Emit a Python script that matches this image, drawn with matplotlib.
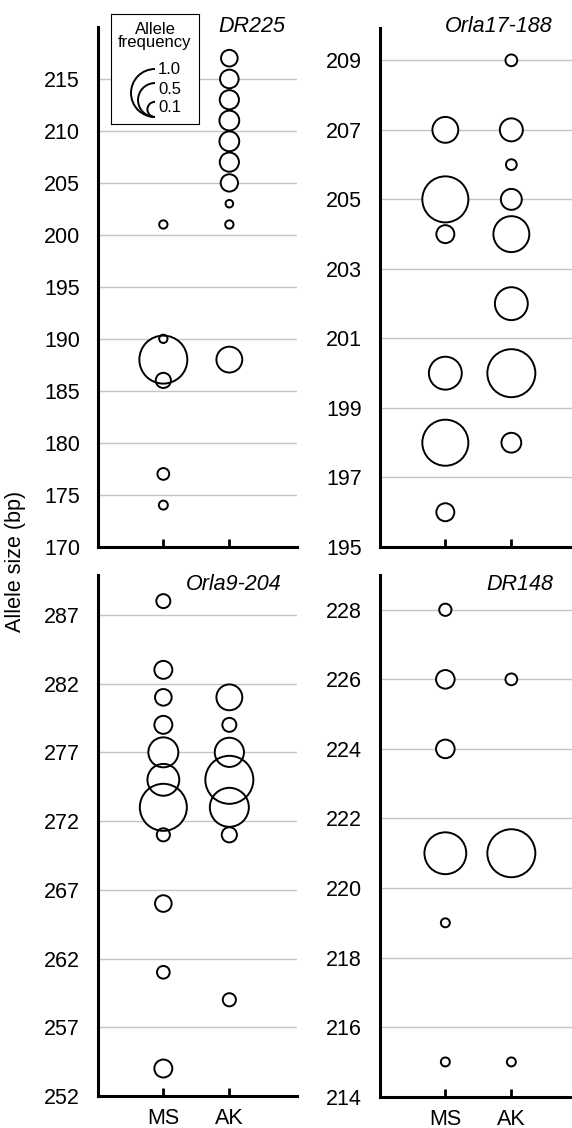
import numpy as np
import matplotlib
matplotlib.use("Agg")
import matplotlib.pyplot as plt
from matplotlib.patches import Arc

plt.rcParams['font.family'] = ['Liberation Sans', 'DejaVu Sans']

# ----------------------------- DATA
pops = ['MS', 'AK']

dr225_ms_size = [201, 190, 188, 186, 177, 174]
dr225_ms_freq = [0.03, 0.03, 1.0, 0.10, 0.06, 0.035]
dr225_ak_size = [217, 215, 213, 211, 209, 207, 205, 203, 201, 188]
dr225_ak_freq = [0.12, 0.15, 0.16, 0.17, 0.17, 0.16, 0.13, 0.025, 0.03, 0.29]

orla17_ms_size = [207, 205, 204, 200, 198, 196]
orla17_ms_freq = [0.29, 0.92, 0.14, 0.47, 0.92, 0.14]
orla17_ak_size = [209, 207, 206, 205, 204, 202, 200, 198]
orla17_ak_freq = [0.06, 0.23, 0.05, 0.19, 0.56, 0.47, 1.0, 0.17]

orla9_ms_size = [288, 283, 281, 279, 277, 275, 273, 271, 266, 261, 254]
orla9_ms_freq = [0.085, 0.14, 0.12, 0.14, 0.39, 0.44, 0.96, 0.075, 0.12, 0.07, 0.14]
orla9_ak_size = [281, 279, 277, 275, 273, 271, 259]
orla9_ak_freq = [0.29, 0.085, 0.37, 1.0, 0.66, 0.10, 0.075]

dr148_ms_size = [228, 226, 224, 221, 219, 215]
dr148_ms_freq = [0.065, 0.15, 0.15, 0.76, 0.035, 0.035]
dr148_ak_size = [226, 221, 215]
dr148_ak_freq = [0.06, 1.0, 0.035]

legend_freq = [1.0, 0.5, 0.1]
legend_labels = ['1.0', '0.5', '0.1']

# ----------------------------- LAYOUT (pixels)
W, H = 572, 1128
D1 = 48  # bubble diameter in px for frequency 1.0


def s_of(f):
    return (D1 * 0.72) ** 2 * np.asarray(f)


def fig_rect(x0, y_top, x1, y_bot):
    return [x0 / W, 1 - y_bot / H, (x1 - x0) / W, (y_bot - y_top) / H]


panels = [
    dict(rect=fig_rect(98, 27, 297, 546.7), title='DR225', title_xy=(285, 26),
         ylim=(170, 220), yticks=np.arange(170, 216, 5), xlab=False,
         ms=(dr225_ms_size, dr225_ms_freq), ak=(dr225_ak_size, dr225_ak_freq)),
    dict(rect=fig_rect(380, 28, 572, 547), title='Orla17-188', title_xy=(553, 26),
         ylim=(195, 209.93), yticks=np.arange(195, 210, 2), xlab=False,
         ms=(orla17_ms_size, orla17_ms_freq), ak=(orla17_ak_size, orla17_ak_freq)),
    dict(rect=fig_rect(98, 575, 297, 1096), title='Orla9-204', title_xy=(282, 585),
         ylim=(252, 289.9), yticks=np.arange(252, 288, 5), xlab=True,
         ms=(orla9_ms_size, orla9_ms_freq), ak=(orla9_ak_size, orla9_ak_freq)),
    dict(rect=fig_rect(380, 575, 572, 1096.7), title='DR148', title_xy=(553, 585),
         ylim=(214, 229), yticks=np.arange(214, 229, 2), xlab=True,
         ms=(dr148_ms_size, dr148_ms_freq), ak=(dr148_ak_size, dr148_ak_freq)),
]

fig = plt.figure(figsize=(W / 100, H / 100), dpi=100)

for p in panels:
    ax = fig.add_axes(p['rect'])
    ax.set_xlim(-0.99, (p['rect'][2] * W) / 66 - 0.99)
    ax.set_ylim(*p['ylim'])
    ax.set_yticks(p['yticks'])
    ax.yaxis.grid(True, color='#c4c4c4', linewidth=1.0)
    ax.set_axisbelow(True)
    for sp in ['top', 'right']:
        ax.spines[sp].set_visible(False)
    for sp in ['left', 'bottom']:
        ax.spines[sp].set_linewidth(2.2)
    ax.tick_params(axis='y', length=0, pad=13, labelsize=15.5)
    ax.set_xticks([0, 1])
    ax.tick_params(axis='x', direction='in', length=6, width=2, pad=8.5, labelsize=15.5)
    ax.set_xticklabels(pops if p['xlab'] else ['', ''])

    # white fill first, then all outlines on top
    for i, key in enumerate(['ms', 'ak']):
        size, freq = p[key]
        ax.scatter(np.full(len(size), i), size, s=s_of(freq), facecolor='white',
                   edgecolor='none', zorder=2, clip_on=False)
    for i, key in enumerate(['ms', 'ak']):
        size, freq = p[key]
        ax.scatter(np.full(len(size), i), size, s=s_of(freq), facecolor='none',
                   edgecolor='black', linewidth=1.4, zorder=3, clip_on=False)

    fig.text(p['title_xy'][0] / W, 1 - p['title_xy'][1] / H, p['title'],
             ha='right', va='center', fontsize=15.5, style='italic')

fig.text(16 / W, 1 - 561 / H, 'Allele size (bp)', rotation=90,
         ha='center', va='center', fontsize=15.5)

# ----------------------------- LEGEND BOX
lax = fig.add_axes(fig_rect(111, 14, 199, 124))
lax.set_xlim(111, 199)
lax.set_ylim(124, 14)
lax.set_xticks([])
lax.set_yticks([])
for sp in lax.spines.values():
    sp.set_linewidth(0.8)
lax.text(155, 29, 'Allele', ha='center', va='center', fontsize=12)
lax.text(155, 43, 'frequency', ha='center', va='center', fontsize=12)
cx, bottom = 155, 117
label_y = [70, 90, 108]
for f, lab, ly in zip(legend_freq, legend_labels, label_y):
    d = D1 * np.sqrt(f)
    lax.add_patch(Arc((cx, bottom - d / 2), d, d, theta1=90, theta2=270,
                      linewidth=1.4, color='black'))
    lax.text(cx + 3, ly, lab, ha='left', va='center', fontsize=12)

fig.savefig('out.png', dpi=100)
